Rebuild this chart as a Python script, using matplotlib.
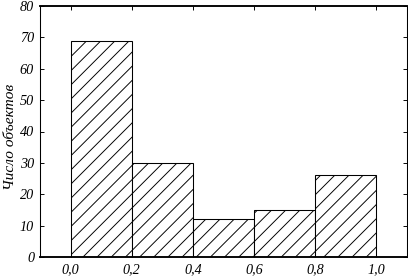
import numpy as np
import matplotlib
matplotlib.use("Agg")
import matplotlib.pyplot as plt
import matplotlib.ticker as plticker

# histogram bins and counts
bin_edges = [0.0, 0.2, 0.4, 0.6, 0.8, 1.0]
counts = [69, 30, 12, 15, 26]
x_ticks = [0.0, 0.2, 0.4, 0.6, 0.8, 1.0]
y_ticks = [0, 10, 20, 30, 40, 50, 60, 70, 80]
y_label = "Число объектов"

DPI = 85
plt.rcParams['font.family'] = ['Liberation Serif', 'DejaVu Serif']
plt.rcParams['font.style'] = 'italic'
plt.rcParams['hatch.linewidth'] = 0.8

fig = plt.figure(figsize=(408 / DPI, 278 / DPI), dpi=DPI)
ax = fig.add_axes([40 / 408, 1 - 257 / 278, 367 / 408, 251 / 278])

widths = np.diff(bin_edges)
ax.bar(bin_edges[:-1], counts, width=widths, align='edge',
       facecolor='white', edgecolor='black', linewidth=0.9, hatch='//')

ax.set_xlim(-0.1, 1.1)
ax.set_ylim(0, 80)
ax.set_xticks(x_ticks)
ax.set_yticks(y_ticks)
ax.xaxis.set_major_formatter(plticker.FuncFormatter(lambda v, p: "{:.1f}".format(v).replace(".", ",")))
ax.yaxis.set_major_formatter(plticker.FuncFormatter(lambda v, p: "{:d}".format(int(v))))
ax.tick_params(direction='in', length=3, width=0.8, top=True, right=True,
               labelsize=12, pad=5)

for side in ['left', 'right']:
    ax.spines[side].set_linewidth(0.9)
for side in ['top', 'bottom']:
    ax.spines[side].set_linewidth(1.6)

ax.set_ylabel(y_label, fontsize=13)
ax.yaxis.set_label_coords(-23 / 367, 0.48)

fig.savefig("out.png", dpi=DPI)
